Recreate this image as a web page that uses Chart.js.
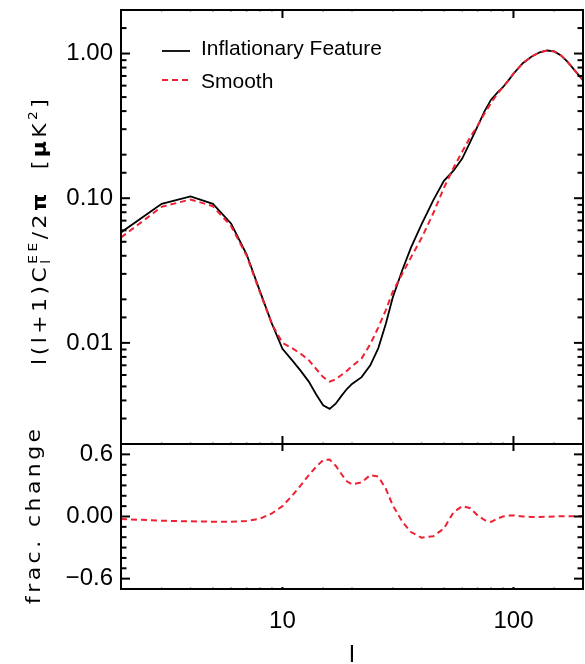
<!DOCTYPE html>
<html><head><meta charset="utf-8">
<script src="https://cdn.jsdelivr.net/npm/chart.js@4.4.1/dist/chart.umd.min.js"></script>
<style>html,body{margin:0;padding:0;background:#fff;}canvas{display:block;}</style>
</head><body>
<canvas id="c" width="585" height="664"></canvas>
<script>
// multipole l
const ell = [2,3,4,5,6,7,8,9,10,11,12,13,14,15,16,17,18,19,20,22,24,26,28,30,33,36,40,45,50,55,60,65,70,75,80,85,90,95,100,110,120,130,140,150,160,170,180,190,200];
// l(l+1)C_l^EE/2pi [uK^2], model with inflationary feature
const featureCl = [0.058,0.0915,0.103,0.0915,0.0666,0.0408,0.0226,0.0136,0.0091,0.0076,0.0064,0.0054,0.0044,0.0037,0.0035,0.0038,0.0043,0.0048,0.0052,0.0058,0.0070,0.0092,0.0135,0.0205,0.0318,0.0455,0.066,0.097,0.132,0.155,0.188,0.245,0.315,0.400,0.480,0.535,0.585,0.650,0.725,0.860,0.955,1.020,1.050,1.035,0.975,0.890,0.800,0.720,0.655];
// smooth model
const smoothCl = [0.0535,0.0872,0.098,0.088,0.064,0.040,0.0222,0.0135,0.0100,0.0092,0.0084,0.0076,0.0066,0.0058,0.0054,0.0056,0.0060,0.0064,0.0069,0.0078,0.0098,0.0128,0.0168,0.0225,0.030,0.039,0.053,0.079,0.118,0.162,0.210,0.265,0.318,0.386,0.455,0.525,0.585,0.652,0.727,0.860,0.955,1.020,1.050,1.035,0.975,0.890,0.800,0.720,0.655];
// fractional change
const fracChange = [-0.025,-0.04,-0.047,-0.05,-0.05,-0.043,-0.02,0.03,0.10,0.20,0.30,0.40,0.48,0.545,0.55,0.49,0.41,0.34,0.31,0.33,0.40,0.385,0.27,0.11,-0.05,-0.15,-0.205,-0.19,-0.115,0.04,0.10,0.08,0.01,-0.035,-0.052,-0.022,0.0,0.01,0.01,0.0,-0.005,-0.005,-0.002,0.0,0.002,0.003,0.003,0.004,0.004];

const xTickValues = [10, 100];
const xTickLabels = ['10', '100'];
const topTickValues = [1, 0.1, 0.01];
const topTickLabels = ['1.00', '0.10', '0.01'];
const botTickValues = [0.6, 0, -0.6];
const botTickLabels = ['0.6', '0.00', '\u22120.6'];
const seriesNames = ['Inflationary Feature', 'Smooth'];

function labelFor(values, labels, v) {
  for (let i = 0; i < values.length; i++) {
    if (Math.abs(values[i] - v) <= 1e-9 * Math.max(1, Math.abs(v))) return labels[i];
  }
  return '';
}
const isDecade = v => Math.abs(Math.log10(v) - Math.round(Math.log10(v))) < 1e-6;

const RED = '#ee2233';
const TICKFONT = {family: 'Liberation Sans', size: 24};

// rich rotated text with letter spacing / stretch
const SX = 1.15, SP = 3.5, TF = '"DejaVu Sans"';
function runAdvance(ctx, r) {
  const measure = (t, size, bold) => {
    let w = 0;
    for (const ch of t) { ctx.font = (bold ? 'bold ' : '') + size + 'px ' + TF; w += ctx.measureText(ch).width * SX + SP; }
    return w;
  };
  if (r.sup !== undefined) return Math.max(measure(r.sup, r.size, false), measure(r.sub, r.size, false));
  return measure(r.text, r.size, r.bold);
}
function drawRun(ctx, r, x) {
  const draw = (t, size, bold, dy) => {
    let xx = x;
    for (const ch of t) {
      ctx.font = (bold ? 'bold ' : '') + size + 'px ' + TF;
      const w = ctx.measureText(ch).width * SX;
      ctx.save(); ctx.translate(xx, dy); ctx.scale(SX, 1); ctx.fillText(ch, 0, 0); ctx.restore();
      xx += w + SP;
    }
  };
  if (r.sup !== undefined) { draw(r.sup, r.size, false, r.supDy); draw(r.sub, r.size, false, r.subDy); }
  else draw(r.text, r.size, r.bold, r.dy || 0);
}
function drawRotated(ctx, runs, cx, cy) {
  let total = 0;
  runs.forEach(r => total += runAdvance(ctx, r));
  total -= SP;
  ctx.save();
  ctx.translate(cx, cy); ctx.rotate(-Math.PI / 2);
  ctx.fillStyle = '#000'; ctx.textBaseline = 'alphabetic'; ctx.textAlign = 'left';
  let x = -total / 2;
  runs.forEach(r => { drawRun(ctx, r, x); x += runAdvance(ctx, r); });
  ctx.restore();
}

const panelPlugin = {
  id: 'panelPlugin',
  afterDatasetsDraw(chart) {
    const ctx = chart.ctx;
    const xs = chart.scales.x, yt = chart.scales.yTop, yb = chart.scales.yBot;
    const L = xs.left, R = xs.right;
    const line = (x0, y0, x1, y1) => { ctx.beginPath(); ctx.moveTo(x0, y0); ctx.lineTo(x1, y1); ctx.stroke(); };
    ctx.save();
    ctx.strokeStyle = '#000';
    ctx.lineWidth = 2;
    yt.ticks.forEach(t => {
      const y = yt.getPixelForValue(t.value);
      const len = isDecade(t.value) ? 9 : 5.5;
      line(L, y, L + len, y); line(R, y, R - len, y);
    });
    yb.ticks.forEach(t => {
      const y = yb.getPixelForValue(t.value);
      const major = labelFor(botTickValues, botTickLabels, t.value) !== '';
      const len = major ? 9 : 5.5;
      line(L, y, L + len, y); line(R, y, R - len, y);
    });
    xs.ticks.forEach(t => {
      const x = xs.getPixelForValue(t.value);
      if (x <= L + 1 || x >= R - 1) return;
      if (isDecade(t.value)) {
        ctx.strokeStyle = '#000'; ctx.lineWidth = 2;
        line(x, yt.top, x, yt.top + 8);
        line(x, yt.bottom, x, yt.bottom - 8);
        line(x, yb.top, x, yb.top + 7);
        line(x, yb.bottom, x, yb.bottom - 2);
      } else {
        ctx.strokeStyle = '#aaa'; ctx.lineWidth = 1.5;
        line(x, yt.top, x, yt.top + 2);
        line(x, yt.bottom, x, yt.bottom - 2);
        line(x, yb.bottom, x, yb.bottom - 2);
      }
    });
    ctx.strokeStyle = '#000'; ctx.lineWidth = 2;
    ctx.strokeRect(L, yt.top, R - L, yb.bottom - yt.top);
    line(L, yt.bottom, R, yt.bottom);

    // legend (inside top panel)
    const ds = chart.data.datasets;
    const lx0 = L + 41, lx1 = L + 69, tx = L + 80;
    const rows = [{y: yt.top + 41, base: 4}, {y: yt.top + 70, base: 7.5}];
    ctx.font = '21px "Liberation Sans"';
    ctx.fillStyle = '#000'; ctx.textBaseline = 'alphabetic'; ctx.textAlign = 'left';
    [0, 1].forEach(i => {
      ctx.strokeStyle = ds[i].borderColor; ctx.lineWidth = ds[i].borderWidth;
      ctx.setLineDash(ds[i].borderDash || []);
      line(lx0, rows[i].y, lx1, rows[i].y);
      ctx.setLineDash([]);
      ctx.fillText(ds[i].label, tx, rows[i].y + rows[i].base);
    });
    ctx.restore();
  },
  afterDraw(chart) {
    const ctx = chart.ctx;
    const yt = chart.scales.yTop, yb = chart.scales.yBot;
    const s = 19, ss = 12;
    const titleRuns = [
      {text: 'l(l+1)C', size: s},
      {sup: 'EE', sub: 'l', size: ss, supDy: -8.5, subDy: 4},
      {text: '/2', size: s},
      {text: '\u03c0', size: s, bold: true},
      {text: '  [', size: s},
      {text: '\u03bc', size: s, bold: true},
      {text: 'K', size: s},
      {text: '2', size: ss, dy: -8.5},
      {text: ']', size: s}
    ];
    drawRotated(ctx, titleRuns, 45.5, (yt.top + yt.bottom) / 2 + 5);
    drawRotated(ctx, [{text: yb.options.title.text, size: s}], 39.5, (yb.top + yb.bottom) / 2);
  }
};

const zeroPad = s => { s.paddingTop = 0; s.paddingBottom = 0; s.paddingLeft = 0; s.paddingRight = 0; };

new Chart(document.getElementById('c'), {
  type: 'line',
  data: {
    datasets: [
      {label: seriesNames[0], data: ell.map((l, i) => ({x: l, y: featureCl[i]})), xAxisID: 'x', yAxisID: 'yTop',
       borderColor: '#000', borderWidth: 1.8, pointRadius: 0, tension: 0, fill: false, order: 2},
      {label: seriesNames[1], data: ell.map((l, i) => ({x: l, y: smoothCl[i]})), xAxisID: 'x', yAxisID: 'yTop',
       borderColor: RED, borderWidth: 2, borderDash: [6, 4], pointRadius: 0, tension: 0, fill: false, order: 1},
      {label: 'frac. change', data: ell.map((l, i) => ({x: l, y: fracChange[i]})), xAxisID: 'x', yAxisID: 'yBot',
       borderColor: RED, borderWidth: 2, borderDash: [6, 4], pointRadius: 0, tension: 0, fill: false, order: 0}
    ]
  },
  options: {
    responsive: false, animation: false, devicePixelRatio: 1,
    layout: {padding: {top: 10, right: 2, left: 0, bottom: 0}},
    plugins: {legend: {display: false}, tooltip: {enabled: false}},
    scales: {
      x: {
        type: 'logarithmic', min: 2, max: 200, position: 'bottom',
        grid: {display: false, drawTicks: false}, border: {display: false},
        ticks: {autoSkip: false, maxRotation: 0, minRotation: 0, padding: 18, color: '#000', font: TICKFONT,
                callback: v => labelFor(xTickValues, xTickLabels, v)},
        title: {display: true, text: 'l', color: '#000', font: {family: 'Liberation Sans', size: 24, lineHeight: 1}, padding: {top: 0, bottom: -3}},
        afterFit: s => { s.height = 75; zeroPad(s); }
      },
      yTop: {
        type: 'logarithmic', min: 0.002, max: 2, position: 'left', stack: 'panels', stackWeight: 434, weight: 1,
        grid: {display: false, drawTicks: false}, border: {display: false},
        ticks: {autoSkip: false, padding: 8, color: '#000', font: TICKFONT,
                callback: v => labelFor(topTickValues, topTickLabels, v)},
        title: {display: false, text: 'l(l+1)C_l^EE/2\u03c0 [\u03bcK^2]'},
        afterFit: s => { s.width = 121; zeroPad(s); }
      },
      yBot: {
        type: 'linear', min: -0.7, max: 0.7, position: 'left', stack: 'panels', stackWeight: 145, weight: 0,
        grid: {display: false, drawTicks: false}, border: {display: false},
        ticks: {autoSkip: false, stepSize: 0.1, padding: 8, color: '#000', font: TICKFONT,
                callback: v => labelFor(botTickValues, botTickLabels, v)},
        title: {display: false, text: 'frac. change'},
        afterFit: s => { s.width = 121; zeroPad(s); }
      }
    }
  },
  plugins: [panelPlugin]
});
</script>
</body></html>
